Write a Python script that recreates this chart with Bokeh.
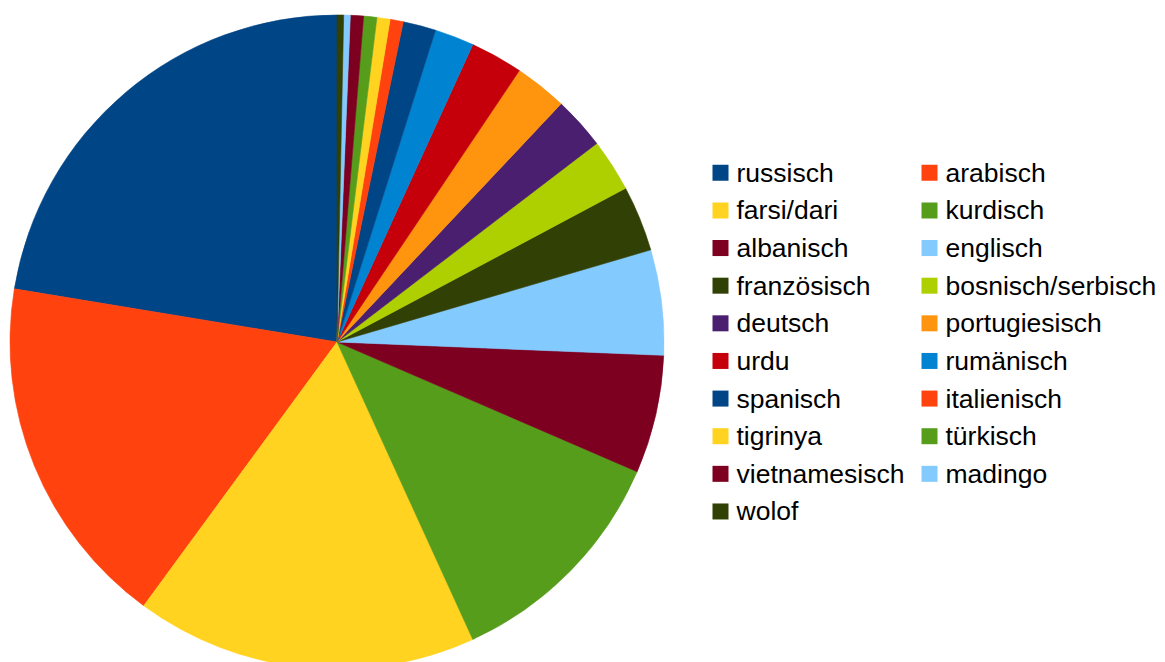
import math
from bokeh.plotting import figure
from bokeh.models import Range1d, ColumnDataSource
from bokeh.core.properties import value
from bokeh.embed import file_html
from bokeh.resources import INLINE

# ---- data ----
languages = ["russisch", "arabisch", "farsi/dari", "kurdisch", "albanisch", "englisch",
             "französisch", "bosnisch/serbisch", "deutsch", "portugiesisch", "urdu",
             "rumänisch", "spanisch", "italienisch", "tigrinya", "türkisch",
             "vietnamesisch", "madingo", "wolof"]
counts = [69, 54, 52, 36, 18, 16, 10, 8, 8, 8, 8, 6, 5, 2, 2, 2, 2, 1, 1]
palette = ["#004586", "#ff420e", "#ffd320", "#579d1c", "#7e0021", "#83caff",
           "#314004", "#aecf00", "#4b1f6f", "#ff950e", "#c5000b", "#0084d1"]

# ---- layout ----
W, H = 1165, 662
def px(x):  # page x -> data x
    return x
def py(y):  # page y -> data y
    return H - y

total = float(sum(counts))
starts, ends, colors = [], [], []
acc = 0.0
for i, c in enumerate(counts):
    a0 = math.pi / 2 + 2 * math.pi * acc / total
    acc += c
    a1 = math.pi / 2 + 2 * math.pi * acc / total
    starts.append(a0)
    ends.append(a1)
    colors.append(palette[i % len(palette)])

pie = ColumnDataSource(dict(start=starts, end=ends, color=colors,
                            x=[px(336.5)] * len(counts), y=[py(341.5)] * len(counts)))

p = figure(width=W, height=H, x_range=Range1d(0, W), y_range=Range1d(0, H),
           output_backend="svg", toolbar_location=None, min_border=0)
p.axis.visible = False
p.grid.visible = False
p.outline_line_color = None
p.background_fill_color = "white"
p.border_fill_color = "white"

p.wedge(x="x", y="y", radius=327, start_angle="start", end_angle="end",
        direction="anticlock", fill_color="color", line_color="color",
        line_width=0.6, source=pie)

# legend
lx, ly, ltx, lty = [], [], [], []
for i in range(len(languages)):
    col, row = i % 2, i // 2
    cy = 172.3 + 37.63 * row
    sx = 720 if col == 0 else 929
    tx = 736 if col == 0 else 945
    lx.append(px(sx)); ly.append(py(cy))
    ltx.append(px(tx)); lty.append(py(cy))

leg = ColumnDataSource(dict(x=lx, y=ly, tx=ltx, ty=lty, color=colors, label=languages))
p.rect(x="x", y="y", width=16, height=16, fill_color="color", line_color=None, source=leg)
p.text(x="tx", y="ty", text="label", text_font=value("Liberation Sans"),
       text_font_size="26.5px", text_baseline="alphabetic", text_align="left",
       text_color="#000000", source=leg)

open("out.html", "w").write(file_html(p, INLINE))
